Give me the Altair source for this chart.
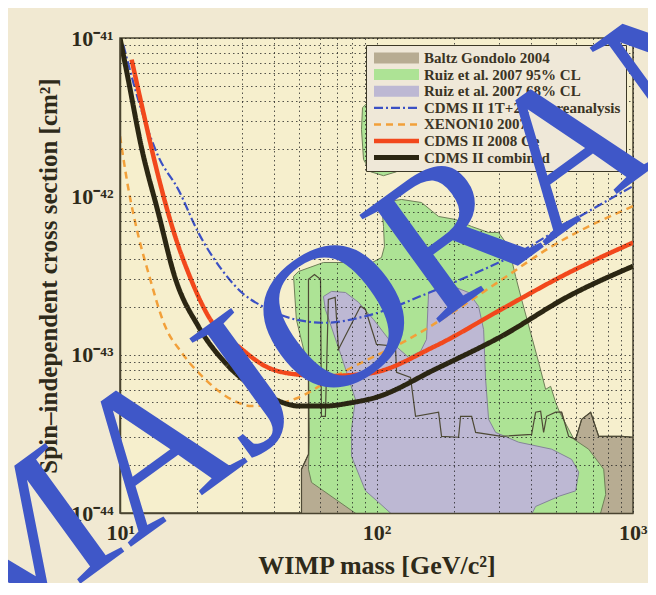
import altair as alt
import pandas as pd

# ---------------- data ----------------
# exclusion curves: WIMP mass [GeV/c^2] and cross section [cm^2]
blue_x = [10.3, 12.1, 14.1, 16.9, 20.2, 24.9, 29.9, 35.7, 48.2, 63, 93, 160, 228, 358, 561, 1000]
blue_y = [9.07e-42, 3.53e-42, 1.79e-42, 1.1e-42, 5.9e-43, 3.45e-43, 2.46e-43, 2.03e-43,
          1.67e-43, 1.59e-43, 1.77e-43, 2.46e-43, 3.13e-43, 4.4e-43, 6.8e-43, 1.16e-42]

orange_x = [10, 10.8, 11.8, 12.9, 15, 17.4, 21.5, 27.2, 32.6, 40.2, 51.2, 63, 77.6, 95,
            126, 197, 308, 483, 1000]
orange_y = [2.4e-42, 1.1e-42, 5.6e-43, 3.29e-43, 1.51e-43, 1.03e-43, 6.98e-44, 5.22e-44,
            4.74e-44, 4.86e-44, 5.48e-44, 6.65e-44, 8.07e-44, 9.5e-44, 1.19e-43, 1.84e-43,
            2.98e-43, 4.84e-43, 8.67e-43]

red_x = [11.1, 12.1, 14.1, 16.4, 18.8, 22.1, 29.9, 36.8, 48.2, 63, 93, 169, 308, 561, 1000]
red_y = [7.3e-42, 3.89e-42, 1.34e-42, 5.6e-43, 3.06e-43, 1.75e-43, 1.08e-43, 8.47e-44,
         7.52e-44, 7.33e-44, 7.6e-44, 1.13e-43, 1.94e-43, 3.29e-43, 5.1e-43]

black_x = [10, 10.77, 12.1, 14.1, 16.4, 20.2, 25.7, 32.6, 40.2, 49.7, 63.1, 80.2, 99, 169,
           308, 561, 1000]
black_y = [1.0e-41, 5.46e-42, 2.07e-42, 7.87e-43, 3.06e-43, 1.51e-43, 8.9e-44, 6.34e-44,
           5.22e-44, 4.74e-44, 4.74e-44, 4.98e-44, 5.36e-44, 8.07e-44, 1.31e-43, 2.34e-43,
           3.62e-43]

# theory regions (outlines); cross sections in units of 1e-44 cm^2
baltz_x = [51.0, 51.0, 54.3, 54.3, 57.3, 60.5, 61.0, 63.2, 64.9, 69.0, 71.1, 86.6, 90.6, 100,
           118.6, 119.7, 135.7, 142.0, 174.6, 179.3, 208.9, 212.7, 234.9, 243.5, 307.5, 402.5,
           417.2, 436.4, 448.3, 460.5, 499.4, 527.0, 561.3, 597.6, 630.7, 683.9, 734.9, 903.6,
           1000, 1000]
baltz_y = [0.9, 1.89, 2.35, 29.9, 32.1, 29.9, 4.08, 4.08, 22.3, 23.0, 10.8, 20.2, 19.3, 11.6,
           11.3, 7.73, 7.19, 4.08, 4.33, 3.05, 3.01, 4.08, 4.08, 3.23, 3.05, 3.14, 4.33, 4.39,
           3.23, 4.08, 4.33, 4.33, 3.05, 2.92, 3.91, 4.33, 3.05, 3.05, 3.01, 0.9]

green_x = [47.5, 49.6, 62.1, 74.3, 93.1, 104.6, 107.4, 106.5, 104.6, 125.2, 149.8, 174.6,
           203.4, 234.9, 273.5, 299.2, 327.3, 348.6, 367.9, 402.5, 428.7, 456.4, 477.4, 499.4,
           517.4, 588.6, 671.5, 768.7, 782.6, 755, 734.9, 90.6, 55.8, 54.3, 54.8, 54.3, 48.7]
green_y = [31.2, 33.5, 38.2, 38.2, 37.1, 41.1, 48.2, 64.5, 91.4, 95.5, 91.4, 74.6, 71.4, 64.5,
           59.1, 59.1, 48.2, 31.2, 22.3, 13.05, 8.94, 6.04, 6.31, 5.0, 4.33, 2.92, 2.53, 1.89,
           1.31, 1.06, 0.9, 0.9, 1.56, 1.89, 3.05, 8.08, 16.7]

green_lobe_x = [88.2, 94.8, 116.5, 124.1, 119.7, 106.5, 94.8, 89.0, 87.4]
green_lobe_y = [363, 408, 314, 171, 143, 135, 143, 171, 264]

purple_x = [62.1, 66.8, 75.7, 85.1, 97.3, 113.4, 133.3, 148.5, 156.7, 159.6, 169.9, 203.4,
            228.5, 250.0, 261.6, 266.3, 273.5, 291.3, 358.1, 481.7, 576.5, 614.0, 597.6, 517.4,
            417.2, 391.7, 121.8, 101.8, 90.6, 79.9, 79.9, 82.8, 73.0, 63.2]
purple_y = [23.3, 25.1, 24.7, 21.4, 16.7, 12.1, 9.62, 10.5, 12.5, 24.7, 25.8, 26.6, 24.7, 20.2,
            14.4, 6.99, 3.91, 3.23, 2.80, 2.53, 2.18, 1.81, 1.38, 1.28, 1.10, 0.9, 0.9, 1.17,
            1.38, 2.28, 3.38, 5.22, 9.76, 19.3]

legend_names = ["Baltz Gondolo 2004", "Ruiz et al. 2007 95% CL", "Ruiz et al. 2007 68% CL",
                "CDMS II 1T+2T Ge reanalysis", "XENON10 2007", "CDMS II 2008 Ge",
                "CDMS II combined"]
x_tick_values = [10, 20, 30, 40, 50, 60, 70, 80, 90, 100, 200, 300, 400, 500, 600, 700, 800,
                 900, 1000]
y_tick_values = [k * 10.0 ** e for e in (-44, -43, -42) for k in range(1, 10)] + [1e-41]

# ---------------- styles ----------------
c_baltz, c_green, c_purple = "#b7ac92", "#ade395", "#bdb8d3"
c_blue, c_orange, c_red, c_black = "#3b50c4", "#f2a03a", "#f2481c", "#2b2612"
ink = "#2e2a1a"
serif = "Liberation Serif"

xscale = alt.Scale(type="log", domain=[10, 1000], nice=False)
yscale = alt.Scale(type="log", domain=[1e-44, 1e-41], nice=False)

grid_kw = dict(grid=True, gridDash=[1.5, 3], gridColor="#1e1e1e", gridOpacity=0.75,
               gridWidth=1, ticks=False, domainColor="#4a4430", domainWidth=1.5,
               labelFont=serif, labelFontSize=22, labelFontWeight="bold", labelColor=ink,
               labelOverlap=False, titleFont=serif, titleFontWeight="bold",
               titleColor=ink, zindex=1)

xaxis = alt.Axis(values=x_tick_values,
                 labelExpr="datum.value == 10 ? '10¹' : (datum.value == 100 ? '10²' : (datum.value == 1000 ? '10³' : ''))",
                 labelPadding=9, labelFlush=True, labelFlushOffset=14,
                 title="WIMP mass [GeV/c²]", titleFontSize=26, titlePadding=9, **grid_kw)
yaxis = alt.Axis(values=y_tick_values,
                 labelExpr="datum.value > 0.99e-41 ? '10⁻⁴¹' : (abs(datum.value - 1e-42) < 1e-46 ? '10⁻⁴²' : (abs(datum.value - 1e-43) < 1e-47 ? '10⁻⁴³' : (abs(datum.value - 1e-44) < 1e-48 ? '10⁻⁴⁴' : '')))",
                 labelPadding=7, labelFlush=False, title="Spin–independent cross section [cm²]",
                 titleFontSize=25, titlePadding=9, **grid_kw)

X = alt.X("x:Q", scale=xscale, axis=xaxis)
Y = alt.Y("y:Q", scale=yscale, axis=yaxis)


def poly_df(xs, ys, name):
    return pd.DataFrame({"x": xs, "y": [v * 1e-44 for v in ys],
                         "i": list(range(len(xs))), "name": name})


def region(df, fill, stroke, width):
    return alt.Chart(df).mark_line(fill=fill, stroke=stroke, strokeWidth=width,
                                   interpolate="linear-closed", clip=True).encode(
        x=X, y=Y, order="i:Q")


baltz_df = poly_df(baltz_x, baltz_y, legend_names[0])
green_df = poly_df(green_x, green_y, legend_names[1])
lobe_df = poly_df(green_lobe_x, green_lobe_y, legend_names[1])
purple_df = poly_df(purple_x, purple_y, legend_names[2])

baltz_fill = region(baltz_df, c_baltz, "#5b5742", 1)
green_fill = region(green_df, c_green, "#6f7f58", 1)
lobe_fill = region(lobe_df, c_green, "#6f7f58", 1)
purple_fill = region(purple_df, c_purple, "#85839a", 1)
baltz_line = alt.Chart(baltz_df).mark_line(stroke="#4e4a36", strokeWidth=1.2,
                                           interpolate="linear-closed", clip=True).encode(
    x=X, y=Y, order="i:Q")

rows = []
for name, xs, ys in [(legend_names[3], blue_x, blue_y), (legend_names[4], orange_x, orange_y),
                     (legend_names[5], red_x, red_y), (legend_names[6], black_x, black_y)]:
    for i, (a, b) in enumerate(zip(xs, ys)):
        rows.append({"name": name, "x": a, "y": b, "i": i})
lines_df = pd.DataFrame(rows)

legend = alt.Legend(title=None, orient="top-right", offset=7, fillColor="#efe8d8",
                    strokeColor="#3c3826", padding=5, symbolType="M-22.5,0H22.5",
                    symbolSize=4, symbolOffset=18, labelOffset=20, labelFont=serif,
                    labelFontSize=15, labelFontWeight="bold", labelColor="#3b3424",
                    labelLimit=300, rowPadding=0.6, clipHeight=16, zindex=2)

lines = alt.Chart(lines_df).mark_line(interpolate="monotone", clip=True).encode(
    x=X, y=Y, order="i:Q",
    color=alt.Color("name:N", legend=legend,
                    scale=alt.Scale(domain=legend_names,
                                    range=[c_baltz, c_green, c_purple, c_blue, c_orange,
                                           c_red, c_black])),
    strokeDash=alt.StrokeDash("name:N", legend=legend,
                              scale=alt.Scale(domain=legend_names,
                                              range=[[1, 0], [1, 0], [1, 0], [9, 3, 2, 3],
                                                     [7, 5], [1, 0], [1, 0]])),
    strokeWidth=alt.StrokeWidth("name:N", legend=legend,
                                scale=alt.Scale(type="ordinal", domain=legend_names,
                                                range=[11, 11, 11, 2.2, 2.5, 4.5, 5])),
)

chart = alt.layer(baltz_fill, green_fill, lobe_fill, purple_fill, baltz_line, lines).properties(
    width=513, height=475,
    autosize=alt.AutoSizeParams(type="none"),
    padding={"left": 112, "top": 30, "right": 15, "bottom": 70},
    background="#f1e9d2",
    title=alt.TitleParams(text="MAJORANA", font=serif, fontSize=205, fontWeight="normal",
                          color="#3f57c8", angle=324, anchor="middle", frame="group",
                          align="center", baseline="middle", orient="top", offset=0,
                          dx=-610, dy=890, zindex=3),
).configure_view(stroke="#4a4430", strokeWidth=1.5, fill="#f6efcd")

chart.save("out.html", embed_options={"renderer": "svg", "actions": False})
